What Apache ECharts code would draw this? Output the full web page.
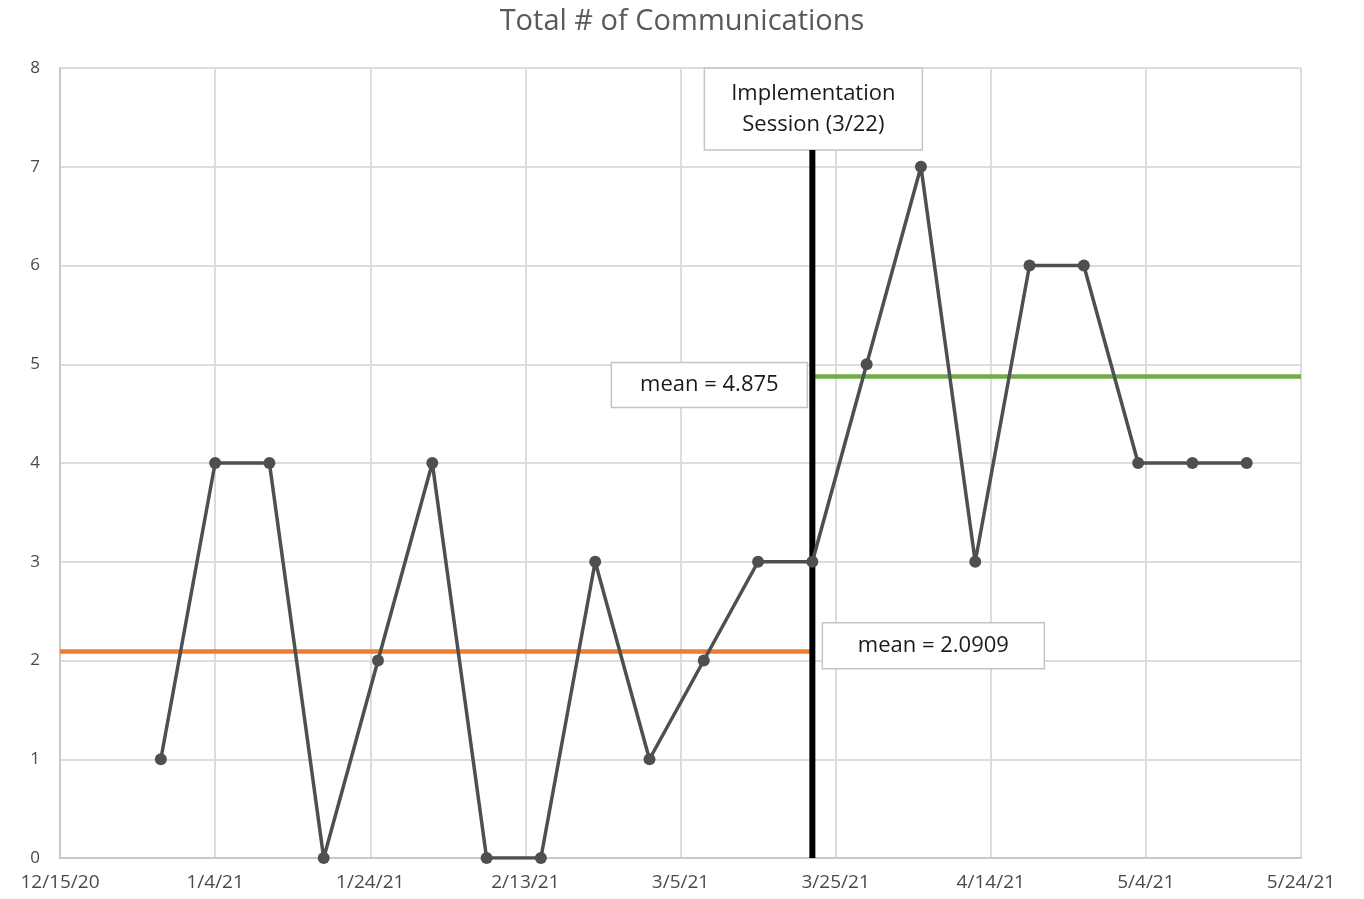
<!DOCTYPE html>
<html>
<head>
<meta charset="utf-8">
<title>Total # of Communications</title>
<script src="https://cdn.jsdelivr.net/npm/echarts@6/dist/echarts.min.js"></script>
<style>
  html, body { margin: 0; padding: 0; background: #ffffff; }
  #chart { width: 1364px; height: 899px; }
</style>
</head>
<body>
<div id="chart"></div>
<script>
// Weekly counts of communications
const weekDates = [
  '2020-12-28', '2021-01-04', '2021-01-11', '2021-01-18', '2021-01-25', '2021-02-01',
  '2021-02-08', '2021-02-15', '2021-02-22', '2021-03-01', '2021-03-08', '2021-03-15',
  '2021-03-22', '2021-03-29', '2021-04-05', '2021-04-12', '2021-04-19', '2021-04-26',
  '2021-05-03', '2021-05-10', '2021-05-17'
];
const communications = [1, 4, 4, 0, 2, 4, 0, 0, 3, 1, 2, 3, 3, 5, 7, 3, 6, 6, 4, 4, 4];

// Axis range and tick labels (one label every 20 days)
const axisStart = '2020-12-15';
const axisEnd = '2021-05-24';
const xTickLabels = ['12/15/20', '1/4/21', '1/24/21', '2/13/21', '3/5/21', '3/25/21', '4/14/21', '5/4/21', '5/24/21'];
const yTickLabels = ['0', '1', '2', '3', '4', '5', '6', '7', '8'];

// Phase means and the implementation date
const implementationDate = '2021-03-22';
const preMean = 2.0909;
const postMean = 4.875;
const preMeanLabel = 'mean = 2.0909';
const postMeanLabel = 'mean = 4.875';
const implementationLabel = 'Implementation\nSession (3/22)';

const DAY = 86400000;
function dayOffset(d) {
  return Math.round((Date.parse(d + 'T00:00:00Z') - Date.parse(axisStart + 'T00:00:00Z')) / DAY);
}
const xMax = dayOffset(axisEnd);
const xImpl = dayOffset(implementationDate);
const seriesData = weekDates.map((d, i) => [dayOffset(d), communications[i]]);

const FONT = '"Open Sans", "Noto Sans", sans-serif';
const chart = echarts.init(document.getElementById('chart'));

chart.setOption({
  backgroundColor: '#ffffff',
  animation: false,
  title: {
    text: 'Total # of Communications',
    left: 'center',
    top: 2,
    textStyle: { fontFamily: FONT, fontSize: 29, fontWeight: 'normal', color: '#595959' }
  },
  grid: { left: 60, right: 63, top: 68, bottom: 41 },
  xAxis: {
    type: 'value',
    min: 0,
    max: xMax,
    interval: 20,
    axisLine: { show: true, lineStyle: { color: '#c8c8c8', width: 2 } },
    axisTick: { show: false },
    splitLine: { show: true, lineStyle: { color: '#dcdcdc', width: 2 } },
    axisLabel: {
      margin: 15,
      fontFamily: FONT,
      fontSize: 19,
      color: '#4a4a4a',
      formatter: v => xTickLabels[Math.round(v / 20)] || ''
    }
  },
  yAxis: {
    type: 'value',
    min: 0,
    max: 8,
    interval: 1,
    axisLine: { show: true, lineStyle: { color: '#c8c8c8', width: 2 } },
    axisTick: { show: false },
    splitLine: { show: true, lineStyle: { color: '#dcdcdc', width: 2 } },
    axisLabel: {
      margin: 20,
      fontFamily: FONT,
      fontSize: 17,
      color: '#4a4a4a',
      formatter: v => yTickLabels[v] || ''
    }
  },
  series: [
    {
      name: 'Pre mean',
      type: 'line',
      data: [[0, preMean], [xImpl, preMean]],
      symbol: 'none',
      lineStyle: { color: '#ED7D31', width: 4.5 },
      z: 2
    },
    {
      name: 'Post mean',
      type: 'line',
      data: [[xImpl, postMean], [xMax, postMean]],
      symbol: 'none',
      lineStyle: { color: '#70AD47', width: 4.5 },
      z: 2
    },
    {
      name: 'Implementation',
      type: 'line',
      data: [[xImpl, 0], [xImpl, 7.17]],
      symbol: 'none',
      lineStyle: { color: '#000000', width: 6 },
      z: 3
    },
    {
      name: 'Total # of Communications',
      type: 'line',
      data: seriesData,
      symbol: 'circle',
      symbolSize: 12,
      itemStyle: { color: '#4f4f4f' },
      lineStyle: { color: '#4f4f4f', width: 3.5 },
      z: 4
    }
  ]
});

// Annotation boxes, anchored to data positions
function boxGroup(cx, cy, w, h, text, fontSize, lineHeight) {
  return {
    type: 'group',
    x: cx - w / 2,
    y: cy - h / 2,
    z: 100,
    children: [
      {
        type: 'rect',
        shape: { x: 0, y: 0, width: w, height: h },
        style: { fill: '#ffffff', stroke: '#c4c4c4', lineWidth: 1.5 }
      },
      {
        type: 'text',
        x: w / 2,
        y: h / 2,
        style: {
          text: text,
          fill: '#1a1a1a',
          font: 'normal ' + fontSize + 'px ' + FONT,
          align: 'center',
          verticalAlign: 'middle',
          lineHeight: lineHeight
        }
      }
    ]
  };
}

const implTop = chart.convertToPixel({ gridIndex: 0 }, [xImpl, 8]);
const implBottom = chart.convertToPixel({ gridIndex: 0 }, [xImpl, 7.17]);
const postBoxPt = chart.convertToPixel({ gridIndex: 0 }, [xImpl, 4.79]);
const preBoxPt = chart.convertToPixel({ gridIndex: 0 }, [xImpl, 2.15]);

chart.setOption({
  graphic: [
    boxGroup(implTop[0] + 1, (implTop[1] + implBottom[1]) / 2, 218, implBottom[1] - implTop[1], implementationLabel, 22, 31),
    boxGroup(postBoxPt[0] - 103, postBoxPt[1], 196, 45, postMeanLabel, 22, 26),
    boxGroup(preBoxPt[0] + 121, preBoxPt[1], 222, 46, preMeanLabel, 22, 26)
  ]
});
</script>
</body>
</html>
